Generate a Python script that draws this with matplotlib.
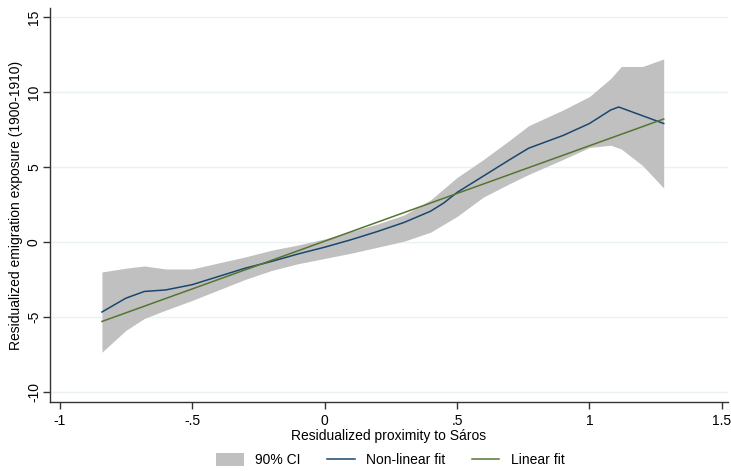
import numpy as np
import matplotlib
matplotlib.use("Agg")
from matplotlib import pyplot as plt
from matplotlib.patches import Patch
from matplotlib.lines import Line2D

plt.rcParams['font.family'] = ['Liberation Sans', 'DejaVu Sans']

# fitted values
x_fit = [-0.84, -0.75, -0.68, -0.6, -0.5, -0.4, -0.3, -0.2, -0.1, 0.0, 0.1, 0.2,
         0.3, 0.4, 0.45, 0.5, 0.6, 0.7, 0.77, 0.9, 1.0, 1.08, 1.11, 1.28]
y_nonlin = [-4.67, -3.75, -3.3, -3.2, -2.85, -2.3, -1.75, -1.3, -0.8, -0.35, 0.15, 0.7,
            1.3, 2.05, 2.6, 3.3, 4.4, 5.5, 6.25, 7.1, 7.9, 8.8, 9.0, 7.9]

x_ci = [-0.84, -0.75, -0.68, -0.6, -0.5, -0.4, -0.3, -0.2, -0.1, 0.0, 0.1, 0.2,
        0.3, 0.4, 0.5, 0.6, 0.7, 0.77, 0.9, 1.0, 1.08, 1.12, 1.2, 1.28]
ci_upper = [-2.0, -1.75, -1.6, -1.8, -1.8, -1.4, -1.0, -0.55, -0.2, 0.2, 0.7, 1.2,
            1.8, 2.8, 4.3, 5.5, 6.8, 7.75, 8.8, 9.7, 10.9, 11.7, 11.7, 12.2]
ci_lower = [-7.35, -5.9, -5.1, -4.55, -3.9, -3.2, -2.5, -1.9, -1.45, -1.1, -0.75, -0.35,
            0.05, 0.65, 1.7, 3.0, 3.9, 4.5, 5.5, 6.3, 6.45, 6.2, 5.1, 3.6]

x_lin = [-0.84, 1.28]
y_lin = [-5.3, 8.2]

xticks = [-1, -0.5, 0, 0.5, 1, 1.5]
xticklabels = ['-1', '-.5', '0', '.5', '1', '1.5']
yticks = [-10, -5, 0, 5, 10, 15]

ci_col = '#c0c0c0'
navy = '#1a476f'
green = '#55752f'

fig = plt.figure(figsize=(7.31, 4.71), dpi=100)
ax = fig.add_axes([0.0684, 0.1465, 0.9276, 0.8365])

ax.fill_between(x_ci, ci_lower, ci_upper, color=ci_col, lw=0, zorder=1)
ax.plot(x_fit, y_nonlin, color=navy, lw=1.1, zorder=3)
ax.plot(x_lin, y_lin, color=green, lw=1.1, zorder=3)

ax.set_xlim(-1.036, 1.523)
ax.set_ylim(-10.67, 15.6)
ax.set_xticks(xticks)
ax.set_xticklabels(xticklabels)
ax.set_yticks(yticks)
ax.set_yticklabels([str(v) for v in yticks], rotation=90, va='center')
ax.grid(axis='y', color='#eaf2f3', lw=1, zorder=0)
ax.set_axisbelow(True)

for s in ['top', 'right']:
    ax.spines[s].set_visible(False)
for s in ['left', 'bottom']:
    ax.spines[s].set_color('#333333')
    ax.spines[s].set_linewidth(1)
ax.tick_params(direction='out', length=5, color='#333333', labelsize=10, width=1)
ax.tick_params(axis='y', pad=1.5)

ax.set_xlabel('Residualized proximity to Sáros', fontsize=10, labelpad=1)
ax.set_ylabel('Residualized emigration exposure (1900-1910)', fontsize=10, labelpad=3)

handles = [Patch(facecolor=ci_col, edgecolor='none'),
           Line2D([], [], color=navy, lw=1.1),
           Line2D([], [], color=green, lw=1.1)]
fig.legend(handles, ['90% CI', 'Non-linear fit', 'Linear fit'], ncol=3,
           loc='center', bbox_to_anchor=(0.534, 0.023), frameon=False,
           fontsize=10, handlelength=2.0, handleheight=1.0, handletextpad=0.8,
           columnspacing=1.9, borderpad=0)

fig.savefig('out.png', dpi=100)
